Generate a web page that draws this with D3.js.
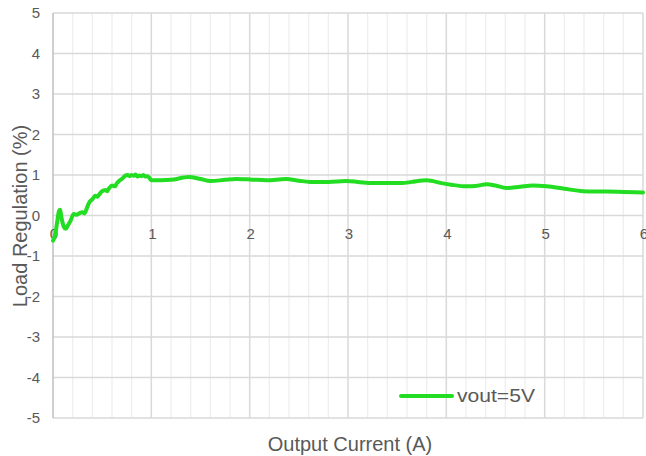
<!DOCTYPE html>
<html>
<head>
<meta charset="UTF-8">
<script src="https://d3js.org/d3.v7.min.js"></script>
<style>
  body { margin: 0; background: #fff; }
  .lbl { font: 15px "Liberation Sans", Arial, sans-serif; fill: #595959; }
  .ttl { font: 20px "Liberation Sans", Arial, sans-serif; fill: #595959; }
</style>
</head>
<body>
<svg id="chart" width="646" height="456"></svg>
<script>
// data
var current = [0, 0.02, 0.04, 0.06, 0.07, 0.09, 0.11, 0.13, 0.15, 0.18, 0.21, 0.24, 0.27, 0.3, 0.32, 0.35, 0.37, 0.4, 0.43, 0.45, 0.47, 0.5, 0.53, 0.55, 0.57, 0.6, 0.63, 0.65, 0.67, 0.7, 0.72, 0.74, 0.76, 0.78, 0.8, 0.82, 0.84, 0.86, 0.88, 0.9, 0.92, 0.94, 0.96, 0.98, 1.0, 1.1, 1.2, 1.38, 1.5, 1.6, 1.75, 1.86, 2.0, 2.17, 2.37, 2.5, 2.61, 2.8, 2.98, 3.1, 3.25, 3.42, 3.55, 3.65, 3.8, 3.95, 4.05, 4.2, 4.3, 4.41, 4.5, 4.61, 4.75, 4.88, 5.02, 5.2, 5.39, 5.5, 5.63, 5.8, 6.0];
var regulation = [-0.62, -0.5, -0.2, 0.1, 0.14, -0.1, -0.28, -0.33, -0.25, -0.12, 0.04, 0.02, 0.06, 0.08, 0.05, 0.22, 0.33, 0.4, 0.49, 0.46, 0.52, 0.6, 0.63, 0.6, 0.67, 0.74, 0.72, 0.8, 0.85, 0.9, 0.95, 0.99, 1.0, 0.97, 1.0, 0.98, 1.01, 0.96, 0.99, 0.97, 1.0, 0.96, 0.97, 0.93, 0.87, 0.87, 0.88, 0.95, 0.9, 0.85, 0.88, 0.9, 0.89, 0.87, 0.9, 0.86, 0.83, 0.83, 0.85, 0.83, 0.8, 0.8, 0.8, 0.83, 0.87, 0.8, 0.76, 0.72, 0.73, 0.77, 0.74, 0.68, 0.71, 0.74, 0.72, 0.66, 0.6, 0.59, 0.59, 0.58, 0.57];
var xTicks = [0, 1, 2, 3, 4, 5, 6];
var yTicks = [5, 4, 3, 2, 1, 0, -1, -2, -3, -4, -5];
var seriesName = "vout=5V";

var svg = d3.select("#chart");
var x = d3.scaleLinear().domain([0, 6]).range([53, 643]);
var y = d3.scaleLinear().domain([-5, 5]).range([418, 13]);

// minor vertical grid
svg.append("g").selectAll("line")
  .data(d3.range(0, 30).map(function(i) { return i * 0.2; }).filter(function(v, i) { return i % 5 != 0; }))
  .enter().append("line")
  .attr("x1", d => x(d)).attr("x2", d => x(d))
  .attr("y1", y(5)).attr("y2", y(-5))
  .attr("stroke", "#eeeeee").attr("stroke-width", 1.3);

// major vertical grid
svg.append("g").selectAll("line")
  .data(xTicks.slice(1))
  .enter().append("line")
  .attr("x1", d => x(d)).attr("x2", d => x(d))
  .attr("y1", y(5)).attr("y2", y(-5))
  .attr("stroke", "#d9d9d9").attr("stroke-width", 1.5);

// horizontal grid
svg.append("g").selectAll("line")
  .data(yTicks)
  .enter().append("line")
  .attr("x1", x(0)).attr("x2", x(6))
  .attr("y1", d => y(d)).attr("y2", d => y(d))
  .attr("stroke", "#d9d9d9").attr("stroke-width", 1.5);

// left axis line
svg.append("line")
  .attr("x1", x(0)).attr("x2", x(0))
  .attr("y1", y(5)).attr("y2", y(-5))
  .attr("stroke", "#bfbfbf").attr("stroke-width", 1.5);

// y tick labels
svg.append("g").selectAll("text")
  .data(yTicks)
  .enter().append("text")
  .attr("class", "lbl")
  .attr("x", 40).attr("y", d => y(d))
  .attr("dy", "0.35em")
  .attr("text-anchor", "end")
  .text(d => d);

// x tick labels (axis crosses at 0)
svg.append("g").selectAll("text")
  .data(xTicks)
  .enter().append("text")
  .attr("class", "lbl")
  .attr("x", d => x(d) + 1).attr("y", y(0) + 23)
  .attr("text-anchor", "middle")
  .text(d => d);

// series
var line = d3.line()
  .x(d => x(d[0])).y(d => y(d[1]))
  .curve(d3.curveMonotoneX);

svg.append("path")
  .datum(d3.zip(current, regulation))
  .attr("d", line)
  .attr("fill", "none")
  .attr("stroke", "#22dd22")
  .attr("stroke-width", 4)
  .attr("stroke-linejoin", "round")
  .attr("stroke-linecap", "round");

// legend
svg.append("line")
  .attr("x1", 401).attr("x2", 452)
  .attr("y1", 396).attr("y2", 396)
  .attr("stroke", "#22dd22").attr("stroke-width", 4)
  .attr("stroke-linecap", "round");
svg.append("text")
  .attr("class", "lbl")
  .style("font-size", "18px")
  .attr("x", 457).attr("y", 396)
  .attr("dy", "0.35em")
  .attr("textLength", 78)
  .attr("lengthAdjust", "spacingAndGlyphs")
  .text(seriesName);

// axis titles
svg.append("text")
  .attr("class", "ttl")
  .attr("x", 350).attr("y", 451)
  .attr("text-anchor", "middle")
  .text("Output Current (A)");

svg.append("text")
  .attr("class", "ttl")
  .attr("transform", "translate(27,216)rotate(-90)")
  .attr("text-anchor", "middle")
  .text("Load Regulation (%)");
</script>
</body>
</html>
